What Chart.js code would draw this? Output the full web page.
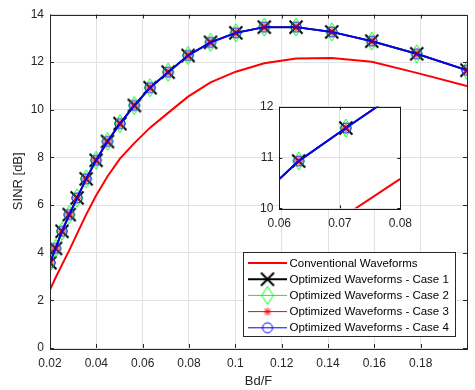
<!DOCTYPE html>
<html>
<head>
<meta charset="utf-8">
<script src="https://cdn.jsdelivr.net/npm/chart.js@4.4.0/dist/chart.umd.min.js"></script>
<style>
  html, body { margin: 0; padding: 0; background: #fff; }
  #wrap { position: relative; width: 475px; height: 390px; }
  #main { position: absolute; left: 0; top: 0; }
  #inset { position: absolute; left: 240px; top: 90px; }
</style>
</head>
<body>
<div id="wrap">
  <canvas id="main" width="475" height="390"></canvas>
  <canvas id="inset" width="180" height="145"></canvas>
</div>
<script>
// Bd/F sample points (log spaced)
const bdF = [0.0200, 0.0224, 0.0252, 0.0283, 0.0317, 0.0356, 0.0399, 0.0448, 0.0502, 0.0564,
             0.0632, 0.0710, 0.0796, 0.0893, 0.1002, 0.1125, 0.1262, 0.1416, 0.1589, 0.1783, 0.2000];
// SINR [dB]
const conventional = [2.45, 2.95, 3.5, 4.1, 4.8, 5.6, 6.4, 7.2, 7.95, 8.6,
                      9.25, 9.87, 10.55, 11.15, 11.6, 11.95, 12.15, 12.17, 12.02, 11.55, 11.0];
// the four optimized cases lie on top of each other
const case1 = [3.58, 4.18, 4.9, 5.6, 6.3, 7.1, 7.88, 8.67, 9.42, 10.18,
               10.93, 11.58, 12.28, 12.83, 13.23, 13.47, 13.47, 13.27, 12.88, 12.35, 11.66];
const case2 = case1.slice();
const case3 = case1.slice();
const case4 = case1.slice();

const seriesNames = ['Conventional Waveforms', 'Optimized Waveforms - Case 1', 'Optimized Waveforms - Case 2',
                     'Optimized Waveforms - Case 3', 'Optimized Waveforms - Case 4'];

const xTicks = [0.02, 0.04, 0.06, 0.08, 0.1, 0.12, 0.14, 0.16, 0.18];
const yTicks = [0, 2, 4, 6, 8, 10, 12, 14];
const insetXTicks = [0.06, 0.07, 0.08];
const insetYTicks = [10, 11, 12];

const FONT = '"Liberation Sans", Arial, Helvetica, sans-serif';
const AXIS_COLOR = '#262626';
const GRID_COLOR = '#e2e2e2';

function marker(kind, color, lw) {
    const c = document.createElement('canvas');
    c.width = 22; c.height = 22;
    const g = c.getContext('2d');
    g.strokeStyle = color;
    g.lineWidth = lw;
    g.translate(11, 11);
    g.beginPath();
    if (kind === 'x') { g.moveTo(-6.5, -6.5); g.lineTo(6.5, 6.5); g.moveTo(6.5, -6.5); g.lineTo(-6.5, 6.5); }
    if (kind === 'diamond') { g.moveTo(0, -9); g.lineTo(5.8, 0); g.lineTo(0, 9); g.lineTo(-5.8, 0); g.closePath(); }
    if (kind === 'star') {
        g.moveTo(0, -4); g.lineTo(0, 4); g.moveTo(-4, 0); g.lineTo(4, 0);
        g.moveTo(-3, -3); g.lineTo(3, 3); g.moveTo(3, -3); g.lineTo(-3, 3);
    }
    if (kind === 'circle') g.arc(0, 0, 5, 0, Math.PI * 2);
    g.stroke();
    return c;
}

const styles = [
    { color: '#ff0000', width: 2, legendWidth: 2, mark: null },
    { color: '#000000', width: 2, legendWidth: 2, mark: marker('x', '#000000', 2) },
    { color: '#00ff00', width: 1, legendWidth: 1, mark: marker('diamond', '#00ff00', 1) },
    { color: '#ff0000', width: 1, legendWidth: 1, mark: marker('star', '#ff0000', 1) },
    { color: '#0000ff', width: 1.8, legendWidth: 1, mark: marker('circle', '#0000ff', 1) }
];
const seriesValues = [conventional, case1, case2, case3, case4];

const makeDatasets = (clip) => seriesValues.map((vals, i) => ({
    label: seriesNames[i],
    data: bdF.map((x, j) => ({ x: x, y: vals[j] })),
    borderColor: styles[i].color,
    borderWidth: styles[i].width,
    pointStyle: styles[i].mark || 'circle',
    pointRadius: styles[i].mark ? 6 : 0,
    pointBorderColor: styles[i].color,
    backgroundColor: styles[i].color,
    fill: false,
    tension: 0,
    order: 5 - i,
    clip: clip
}));

const fmt = v => String(Number(v.toFixed(2)));

// box + inward tick marks like matlab
const frame = (len, color) => ({
    id: 'frame',
    afterDatasetsDraw(chart) {
        const { ctx, chartArea: a, scales: { x, y } } = chart;
        ctx.save();
        ctx.strokeStyle = color;
        ctx.lineWidth = 1;
        ctx.beginPath();
        x.ticks.forEach(t => {
            const p = Math.round(x.getPixelForValue(t.value)) + 0.5;
            ctx.moveTo(p, a.bottom); ctx.lineTo(p, a.bottom - len);
            ctx.moveTo(p, a.top); ctx.lineTo(p, a.top + len);
        });
        y.ticks.forEach(t => {
            const p = Math.round(y.getPixelForValue(t.value)) + 0.5;
            ctx.moveTo(a.left, p); ctx.lineTo(a.left + len, p);
            ctx.moveTo(a.right, p); ctx.lineTo(a.right - len, p);
        });
        ctx.stroke();
        ctx.strokeRect(Math.round(a.left) + 0.5, Math.round(a.top) + 0.5,
                       Math.round(a.right - a.left), Math.round(a.bottom - a.top));
        ctx.restore();
    }
});

const legendBox = {
    id: 'legendBox',
    afterDraw(chart) {
        const { ctx, chartArea: a } = chart;
        const w = 212, h = 84;
        const left = Math.round(a.right - 12.5 - w) + 0.5;
        const top = Math.round(a.bottom - 12 - h) + 0.5;
        ctx.save();
        ctx.fillStyle = '#fff';
        ctx.fillRect(left, top, w, h);
        ctx.strokeStyle = AXIS_COLOR;
        ctx.lineWidth = 1;
        ctx.strokeRect(left, top, w, h);
        ctx.font = '11.5px ' + FONT;
        ctx.textBaseline = 'middle';
        ctx.fillStyle = '#000';
        chart.data.datasets.forEach((ds, i) => {
            const cy = top + 10.5 + i * 16.2;
            ctx.strokeStyle = styles[i].color;
            ctx.lineWidth = styles[i].legendWidth;
            ctx.beginPath();
            ctx.moveTo(left + 4.5, cy);
            ctx.lineTo(left + 43.5, cy);
            ctx.stroke();
            if (styles[i].mark) ctx.drawImage(styles[i].mark, left + 24 - 11, cy - 11);
            ctx.fillText(ds.label, left + 46, cy + 0.5);
        });
        ctx.restore();
    }
};

const whiteArea = {
    id: 'whiteArea',
    beforeDraw(chart) {
        const { ctx, chartArea: a } = chart;
        ctx.save();
        ctx.fillStyle = '#fff';
        ctx.fillRect(a.left, a.top, a.right - a.left, a.bottom - a.top);
        ctx.restore();
    }
};

const tickFont = { family: FONT, size: 12 };

new Chart(document.getElementById('main'), {
    type: 'line',
    data: { datasets: makeDatasets(undefined) },
    options: {
        responsive: false,
        animation: false,
        devicePixelRatio: 1,
        layout: { padding: { left: 0, right: 3.5, top: 14.5, bottom: 0 } },
        plugins: { legend: { display: false }, tooltip: { enabled: false } },
        scales: {
            x: {
                type: 'linear', min: 0.02, max: 0.2,
                afterBuildTicks: s => { s.ticks = xTicks.map(v => ({ value: v })); },
                afterFit: s => { s.height = 42; },
                ticks: { font: tickFont, color: AXIS_COLOR, padding: 8, maxRotation: 0, autoSkip: false, callback: v => fmt(v) },
                grid: { color: GRID_COLOR, drawTicks: false },
                border: { display: false },
                title: { display: true, text: 'Bd/F', font: { family: FONT, size: 13 }, color: AXIS_COLOR, padding: { top: 0, bottom: 1 } }
            },
            y: {
                min: 0, max: 14,
                afterBuildTicks: s => { s.ticks = yTicks.map(v => ({ value: v })); },
                afterFit: s => { s.width = 50; },
                ticks: { font: tickFont, color: AXIS_COLOR, padding: 6, autoSkip: false },
                grid: { color: GRID_COLOR, drawTicks: false },
                border: { display: false },
                title: { display: true, text: 'SINR [dB]', font: { family: FONT, size: 13 }, color: AXIS_COLOR, padding: { top: 11, bottom: 0 } }
            }
        }
    },
    plugins: [frame(4, AXIS_COLOR), legendBox]
});

new Chart(document.getElementById('inset'), {
    type: 'line',
    data: { datasets: makeDatasets(0) },
    options: {
        responsive: false,
        animation: false,
        devicePixelRatio: 1,
        layout: { padding: { left: 0, right: 5.7, top: 16.7, bottom: 0 } },
        plugins: { legend: { display: false }, tooltip: { enabled: false } },
        scales: {
            x: {
                type: 'linear', min: 0.06, max: 0.08,
                afterBuildTicks: s => { s.ticks = insetXTicks.map(v => ({ value: v })); },
                afterFit: s => { s.height = 26.7; },
                ticks: { font: tickFont, color: AXIS_COLOR, padding: 8, maxRotation: 0, autoSkip: false, callback: v => fmt(v) },
                grid: { color: GRID_COLOR, drawTicks: false },
                border: { display: false }
            },
            y: {
                min: 10, max: 12,
                afterBuildTicks: s => { s.ticks = insetYTicks.map(v => ({ value: v })); },
                afterFit: s => { s.width = 39.3; },
                ticks: { font: tickFont, color: AXIS_COLOR, padding: 6, autoSkip: false },
                grid: { color: GRID_COLOR, drawTicks: false },
                border: { display: false }
            }
        }
    },
    plugins: [whiteArea, frame(3, '#1a1a1a')]
});
</script>
</body>
</html>
